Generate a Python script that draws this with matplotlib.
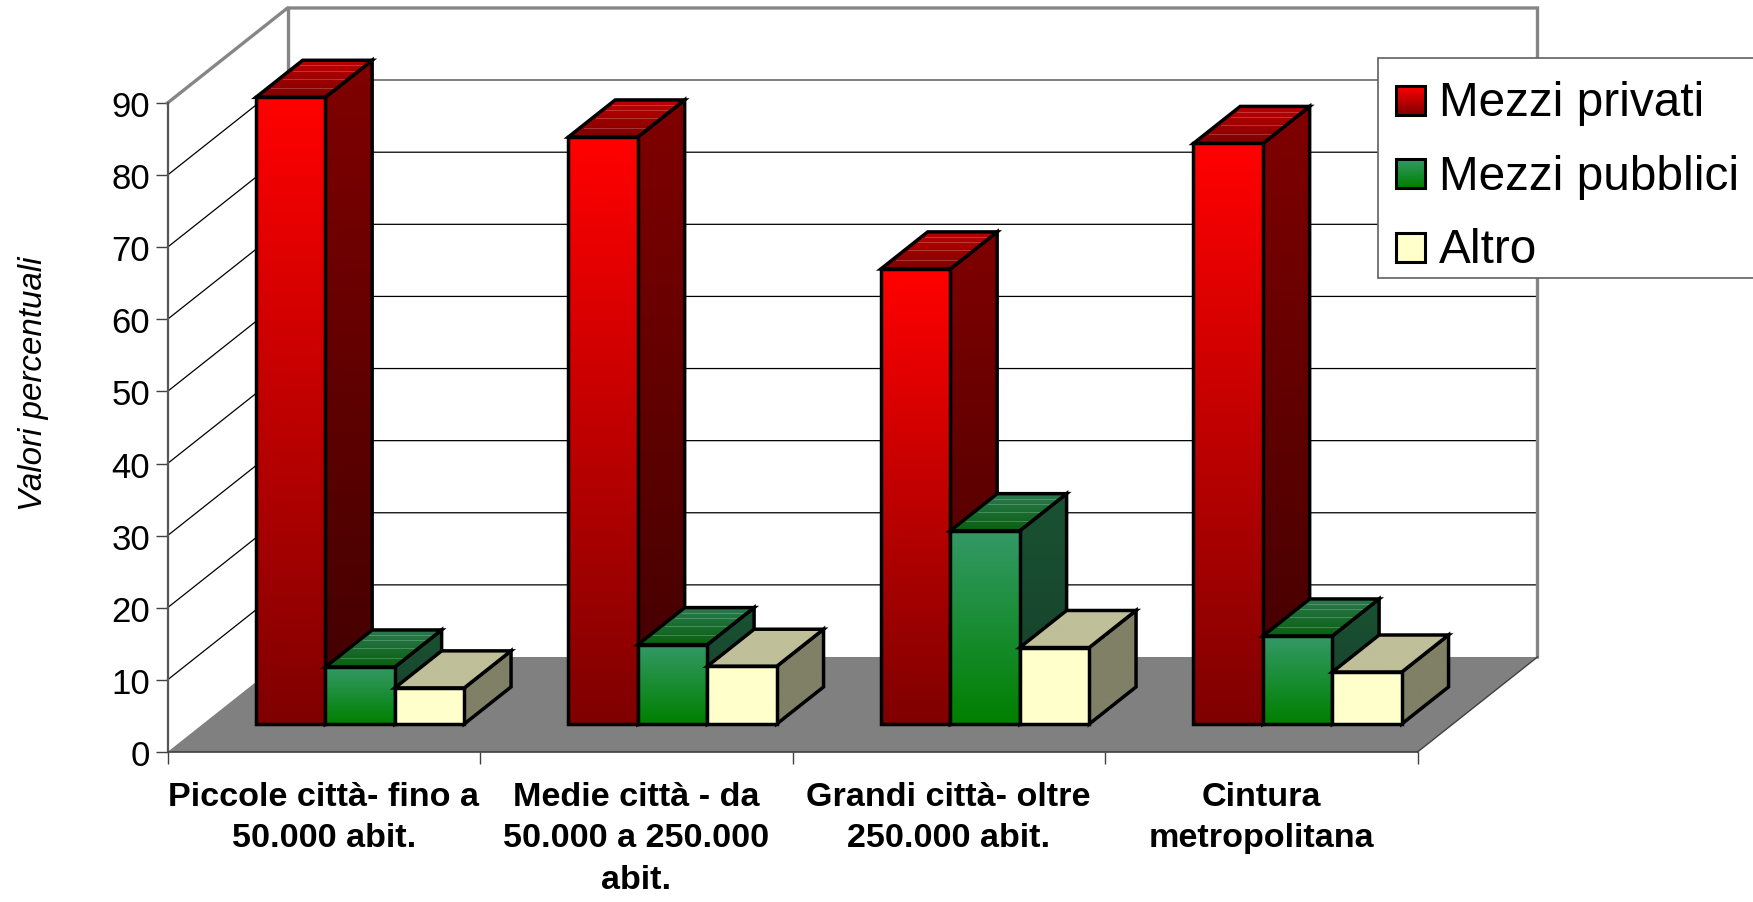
import numpy as np
import matplotlib
matplotlib.use('Agg')
import matplotlib.pyplot as plt
from matplotlib.colors import LinearSegmentedColormap
from matplotlib.patches import Polygon, Rectangle

plt.rcParams['font.family'] = ['Liberation Sans', 'DejaVu Sans']

categories = ['Piccole città- fino a\n50.000 abit.',
              'Medie città - da\n50.000 a 250.000\nabit.',
              'Grandi città- oltre\n250.000 abit.',
              'Cintura\nmetropolitana']
series_names = ['Mezzi privati', 'Mezzi pubblici', 'Altro']
privati = [86.9, 81.4, 63.1, 80.5]
pubblici = [7.9, 11.0, 26.8, 12.2]
altro = [5.0, 8.0, 10.6, 7.2]
yticks = list(range(0, 100, 10))

# (front top, front bottom), (side top, side bottom), (top back, top front)
colors = [
    (('#ff0000', '#800000'), ('#800000', '#400000'), ('#c00000', '#800000')),
    (('#339966', '#008000'), ('#1a5233', '#163f2a'), ('#2a7a50', '#0a600f')),
    (('#ffffcc', '#ffffcc'), ('#808066', '#808066'), ('#bfbf99', '#bfbf99')),
]

W, H = 1753, 903
# 3d box shift of the back wall, in data units
depth_x = 120 / 312.5
depth_y = 95 / 7.21
bar_w = 2 / 9
near, far = 0.295, 0.685

fig = plt.figure(figsize=(W / 100, H / 100), dpi=100)
ax = fig.add_axes([167.5 / W, (H - 753) / H, 1250 / W, 649 / H])
ax.patch.set_visible(False)


def face(points, c1, c2, z):
    pts = np.array(points)
    cmap = LinearSegmentedColormap.from_list('g', [c1, c2])
    grad = np.linspace(0, 1, 64).reshape(-1, 1)
    extent = [pts[:, 0].min(), pts[:, 0].max(), pts[:, 1].min(), pts[:, 1].max()]
    im = ax.imshow(grad, cmap=cmap, extent=extent, aspect='auto', origin='upper',
                   zorder=z, interpolation='bilinear')
    im.set_clip_box(fig.bbox)
    im.set_clip_path(Polygon(pts, closed=True, transform=ax.transData))
    ax.add_patch(Polygon(pts, closed=True, fill=False, ec='black', lw=2.5,
                         zorder=z + 0.1, clip_on=False, joinstyle='miter'))


def bar3d(x, v, cols, z):
    x0 = x + near * depth_x + 0.003
    x1 = x0 + bar_w
    dx = (far - near) * depth_x
    dy = (far - near) * depth_y
    y0 = near * depth_y
    y1 = y0 + v
    face([(x1, y0), (x1 + dx, y0 + dy), (x1 + dx, y1 + dy), (x1, y1)], cols[1][0], cols[1][1], z)
    face([(x0, y1), (x1, y1), (x1 + dx, y1 + dy), (x0 + dx, y1 + dy)], cols[2][0], cols[2][1], z + 0.2)
    # light streaks on the top face
    if cols[2][0] != cols[2][1]:
        for t in (0.25, 0.5, 0.72, 0.86):
            ax.plot([x0 + dx * t + 0.012, x1 + dx * t - 0.012], [y1 + dy * t] * 2, color='white',
                    lw=0.6, alpha=0.25, zorder=z + 0.25, clip_on=False)
    face([(x0, y0), (x1, y0), (x1, y1), (x0, y1)], cols[0][0], cols[0][1], z + 0.4)


# walls and floor
bx = 4 + depth_x
ax.add_patch(Polygon([(0, 0), (4, 0), (bx, depth_y), (depth_x, depth_y)], closed=True,
                     fc='#808080', ec='none', zorder=1, clip_on=False))
for t in yticks[1:-2]:
    ax.plot([0, depth_x, bx], [t, t + depth_y, t + depth_y], color='black', lw=0.9, zorder=1.5, clip_on=False)
ax.plot([0, depth_x], [80, 80 + depth_y], color='black', lw=0.9, zorder=1.5, clip_on=False)
ax.plot([depth_x, bx], [80 + depth_y] * 2, color='#808080', lw=1.4, zorder=1.55, clip_on=False)
ax.plot([0, depth_x, bx, bx], [90, 90 + depth_y, 90 + depth_y, depth_y], color='#868686', lw=2.4,
        zorder=1.6, clip_on=False, solid_joinstyle='miter')
ax.plot([depth_x, depth_x], [depth_y, 90 + depth_y], color='#868686', lw=2.4, zorder=1.6, clip_on=False)
ax.plot([4, bx], [0, depth_y], color='#404040', lw=1, zorder=1.6, clip_on=False)

# bars
for i in range(len(categories)):
    for k, vals in enumerate([privati, pubblici, altro]):
        bar3d(i + 1 / 6 + k * bar_w, vals[i], colors[k], 3 + i + k)

ax.set_xlim(0, 4)
ax.set_ylim(0, 90)
ax.set_yticks(yticks)
ax.set_xticks(range(5))
ax.set_xticklabels([])
ax.set_xticks([0.5, 1.5, 2.5, 3.5], categories, minor=True, fontweight='bold', fontsize=24.6, linespacing=1.43)
ax.tick_params(axis='x', which='major', length=8.6, width=1, color='#404040')
ax.tick_params(axis='x', which='minor', length=0, pad=21)
ax.tick_params(axis='y', length=8.6, width=1, color='#404040', labelsize=25, pad=4)
for s in ('top', 'right'):
    ax.spines[s].set_visible(False)
ax.spines['left'].set_color('#555555')
ax.spines['left'].set_linewidth(1.6)
ax.spines['bottom'].set_color('#404040')
ax.spines['bottom'].set_linewidth(1.2)
fig.text(34 / W, 1 - 384 / H, 'Valori percentuali', rotation=90, style='italic', fontsize=23.9,
         ha='center', va='center')

# legend, drawn in pixel coordinates of the figure
lg = fig.add_axes([0, 0, 1, 1], zorder=20)
lg.axis('off')
lg.add_patch(Rectangle((1378, 59), 400, 220, fc='white', ec='#606060', lw=1.2))
for name, cols, top in zip(series_names, colors, [87, 160, 234]):
    cmap = LinearSegmentedColormap.from_list('g', list(cols[0]))
    lg.imshow(np.linspace(0, 1, 32).reshape(-1, 1), cmap=cmap, extent=[1396, 1425, top + 29, top],
              aspect='auto', origin='upper', zorder=2)
    lg.add_patch(Rectangle((1396, top), 29, 29, fill=False, ec='black', lw=2.2, zorder=3))
    lg.text(1439, top + 29.5, name, fontsize=34.4, va='baseline', ha='left', zorder=3)
lg.set_xlim(0, W)
lg.set_ylim(H, 0)

fig.savefig('out.png', dpi=100)
